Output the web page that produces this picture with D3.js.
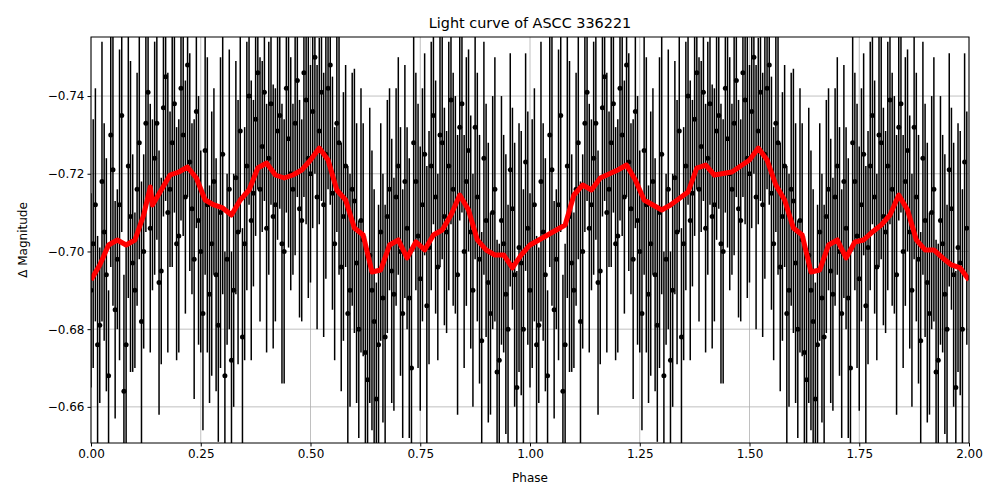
<script src="https://cdnjs.cloudflare.com/ajax/libs/d3/7.9.0/d3.min.js"></script>
<style>body{margin:0;background:#fff}</style>
<div id="chart"></div>
<script>
// folded observations, phase 0-1 (plotted twice: phase and phase+1)
const obsPhase = d3.range(0, 100).map(i => i / 100);
const obsMag = [-0.690,-0.712,-0.681,-0.705,-0.668,-0.721,-0.698,-0.735,-0.676,-0.709,
  -0.690,-0.728,-0.700,-0.741,-0.712,-0.733,-0.695,-0.745,-0.716,-0.738,
  -0.704,-0.730,-0.748,-0.711,-0.736,-0.700,-0.726,-0.689,-0.718,-0.681,
  -0.725,-0.698,-0.672,-0.719,-0.731,-0.702,-0.740,-0.715,-0.746,-0.727,
  -0.706,-0.738,-0.712,-0.735,-0.700,-0.729,-0.716,-0.744,-0.708,-0.739,
  -0.720,-0.750,-0.731,-0.712,-0.742,-0.715,-0.733,-0.696,-0.722,-0.690,
  -0.713,-0.680,-0.703,-0.667,-0.690,-0.662,-0.705,-0.678,-0.716,-0.689,
  -0.722,-0.684,-0.706,-0.670,-0.718,-0.693,-0.725,-0.701,-0.735,-0.696,
  -0.728,-0.705,-0.739,-0.712,-0.732,-0.700,-0.726,-0.690,-0.714,-0.677,
  -0.708,-0.684,-0.716,-0.672,-0.702,-0.680,-0.711,-0.665,-0.697,-0.723];
const obsErr = [.025,.030,.020,.028,.022,.035,.018,.030,.026,.040,
  .020,.030,.025,.028,.022,.030,.024,.032,.020,.028,
  .030,.026,.034,.022,.030,.026,.032,.028,.024,.030,
  .036,.022,.028,.030,.026,.030,.028,.024,.030,.022,
  .032,.026,.030,.024,.034,.028,.022,.030,.026,.032,
  .028,.030,.024,.034,.026,.030,.028,.032,.026,.030,
  .034,.028,.030,.032,.036,.030,.028,.034,.026,.030,
  .028,.032,.026,.030,.028,.034,.026,.030,.028,.024,
  .030,.026,.032,.028,.024,.030,.026,.030,.032,.028,
  .030,.026,.034,.030,.028,.032,.026,.030,.034,.028];
// second night, offset half a bin
const obs2Phase = d3.range(0, 100).map(i => i / 100 + 0.005);
const obs2Mag = [-0.702,-0.676,-0.718,-0.694,-0.730,-0.685,-0.712,-0.664,-0.722,-0.697,
  -0.716,-0.682,-0.733,-0.706,-0.724,-0.692,-0.737,-0.710,-0.728,-0.702,
  -0.742,-0.714,-0.723,-0.698,-0.708,-0.684,-0.712,-0.702,-0.694,-0.710,
  -0.668,-0.716,-0.690,-0.705,-0.678,-0.722,-0.708,-0.734,-0.716,-0.741,
  -0.724,-0.709,-0.731,-0.702,-0.742,-0.720,-0.733,-0.711,-0.746,-0.724,
  -0.736,-0.714,-0.741,-0.725,-0.748,-0.702,-0.728,-0.709,-0.684,-0.716,
  -0.697,-0.708,-0.674,-0.699,-0.682,-0.676,-0.688,-0.709,-0.695,-0.714,
  -0.700,-0.718,-0.688,-0.728,-0.704,-0.712,-0.686,-0.722,-0.714,-0.730,
  -0.709,-0.722,-0.716,-0.694,-0.738,-0.718,-0.705,-0.732,-0.698,-0.724,
  -0.692,-0.710,-0.669,-0.708,-0.689,-0.721,-0.694,-0.701,-0.680,-0.706];
const obs2Err = [.032,.028,.036,.030,.034,.028,.040,.030,.034,.028,
  .030,.036,.028,.032,.030,.034,.028,.036,.032,.030,
  .034,.030,.028,.036,.032,.030,.038,.034,.030,.040,
  .032,.036,.030,.034,.028,.032,.036,.030,.034,.028,
  .030,.034,.028,.036,.032,.030,.034,.028,.032,.036,
  .030,.034,.028,.032,.036,.030,.034,.032,.038,.030,
  .036,.034,.030,.038,.034,.036,.032,.030,.034,.028,
  .032,.030,.036,.028,.034,.030,.036,.032,.030,.034,
  .028,.032,.030,.036,.028,.032,.030,.034,.032,.030,
  .036,.030,.034,.032,.036,.030,.034,.032,.036,.030];

// smoothed curve over phase 0-2
const smoothPhase = [0,.02,.04,.06,.08,.10,.12,.135,.14,.16,.18,.20,.22,.24,.26,.28,.30,.32,.34,.36,.38,.40,.42,.44,.46,.48,.50,.52,.54,.56,.58,.60,.62,.64,.66,.68,.70,.72,.74,.76,.78,.80,.82,.84,.86,.88,.90,.92,.94,.96,.98,
  1.00,1.04,1.08,1.10,1.12,1.14,1.16,1.20,1.22,1.24,1.26,1.28,1.30,1.32,1.36,1.38,1.40,1.42,1.46,1.50,1.52,1.54,1.56,1.58,1.60,1.62,1.64,1.66,1.68,1.70,1.72,1.74,1.76,1.78,1.80,1.82,1.84,1.86,1.88,1.90,1.92,1.94,1.96,1.98,2.00];
const smoothY = [280,265,245,240,245,240,215,187,205,190,175,172,167,178,200,205,208,215,200,190,168,163,175,178,175,170,160,148,160,190,200,228,235,272,270,245,240,258,242,250,235,230,215,195,210,240,250,255,255,268,255,
  245,235,225,195,185,190,178,170,165,180,200,205,210,205,192,168,165,175,172,160,148,160,185,200,228,235,272,270,245,240,258,242,240,232,225,215,195,210,240,250,250,258,265,268,280];
// pixel readings converted to magnitudes
const smoothMag = smoothY.map(y => -0.74 + (y - 96) * 0.02 / 77.75);

const width = 1000, height = 500;
const m = {top: 37, right: 31, bottom: 57, left: 91};
const svg = d3.select("#chart").append("svg").attr("width", width).attr("height", height)
  .style("font-family", "DejaVu Sans");

const x = d3.scaleLinear().domain([0, 2]).range([m.left, width - m.right]);
const y = d3.scaleLinear().domain([-0.7552, -0.6507]).range([m.top, height - m.bottom]);

const xTicks = d3.range(0, 2.01, 0.25);
const yTicks = [-0.74, -0.72, -0.70, -0.68, -0.66];

svg.append("defs").append("clipPath").attr("id", "clip").append("rect")
  .attr("x", m.left).attr("y", m.top).attr("width", width - m.left - m.right).attr("height", height - m.top - m.bottom);

// grid
const grid = svg.append("g");
grid.selectAll(".gx").data(xTicks).join("line")
  .attr("x1", d => x(d)).attr("x2", d => x(d)).attr("y1", m.top).attr("y2", height - m.bottom)
  .attr("stroke", "#b0b0b0").attr("stroke-width", 0.8);
grid.selectAll(".gy").data(yTicks).join("line")
  .attr("y1", d => y(d)).attr("y2", d => y(d)).attr("x1", m.left).attr("x2", width - m.right)
  .attr("stroke", "#b0b0b0").attr("stroke-width", 0.8);

const plot = svg.append("g").attr("clip-path", "url(#clip)");

const pts = [];
[0, 1].forEach(k => {
  obsPhase.forEach((p, i) => pts.push({p: p + k, m: obsMag[i], e: obsErr[i]}));
  obs2Phase.forEach((p, i) => pts.push({p: p + k, m: obs2Mag[i], e: obs2Err[i]}));
});

plot.selectAll(".eb").data(pts).join("line")
  .attr("x1", d => x(d.p)).attr("x2", d => x(d.p))
  .attr("y1", d => y(d.m - d.e)).attr("y2", d => y(d.m + d.e))
  .attr("stroke", "#000").attr("stroke-width", 1.5);
plot.selectAll(".pt").data(pts).join("circle")
  .attr("cx", d => x(d.p)).attr("cy", d => y(d.m)).attr("r", 2.5).attr("fill", "#000");

plot.append("path").datum(smoothPhase.map((p, i) => [p, smoothMag[i]]))
  .attr("d", d3.line().x(d => x(d[0])).y(d => y(d[1])))
  .attr("fill", "none").attr("stroke", "red").attr("stroke-width", 5).attr("stroke-linejoin", "round");

svg.append("rect").attr("x", m.left).attr("y", m.top)
  .attr("width", width - m.left - m.right).attr("height", height - m.top - m.bottom)
  .attr("fill", "none").attr("stroke", "#000").attr("stroke-width", 1);

const xa = svg.append("g").attr("transform", `translate(0,${height - m.bottom})`)
  .call(d3.axisBottom(x).tickValues(xTicks).tickFormat(d3.format(".2f")).tickSizeOuter(0).tickSize(3.5));
const ya = svg.append("g").attr("transform", `translate(${m.left},0)`)
  .call(d3.axisLeft(y).tickValues(yTicks).tickFormat(d => d3.format(".2f")(d).replace("-", "\u2212")).tickSizeOuter(0).tickSize(3.5));
[xa, ya].forEach(a => {
  a.select(".domain").remove();
  a.selectAll("text").attr("font-size", 12).attr("font-family", "DejaVu Sans").attr("fill", "#000");
});

svg.append("text").attr("x", (m.left + width - m.right) / 2).attr("y", 482).attr("text-anchor", "middle")
  .attr("font-size", 12).text("Phase");
svg.append("text").attr("transform", `translate(27,${(m.top + height - m.bottom) / 2}) rotate(-90)`)
  .attr("text-anchor", "middle").attr("font-size", 12).text("Δ Magnitude");
svg.append("text").attr("x", (m.left + width - m.right) / 2).attr("y", 28).attr("text-anchor", "middle")
  .attr("font-size", 14.4).text("Light curve of ASCC 336221");
</script>
